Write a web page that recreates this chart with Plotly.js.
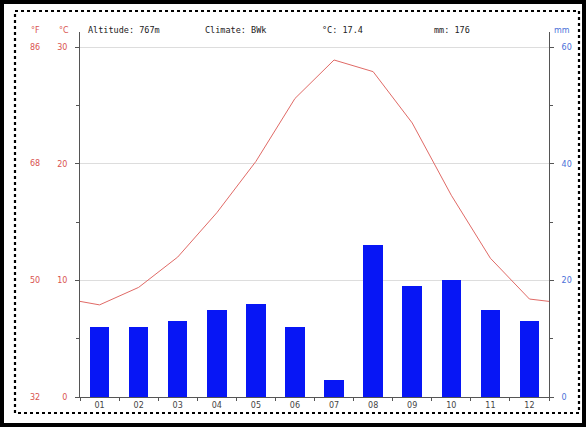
<!DOCTYPE html>
<html>
<head>
<meta charset="utf-8">
<script src="https://cdn.plot.ly/plotly-3.0.1.min.js"></script>
<style>
  html, body { margin: 0; padding: 0; background: #fff; }
  #chart { width: 587px; height: 430px; }
</style>
</head>
<body>
<div id="chart"></div>
<script>
// ---- data ----
const months = [1, 2, 3, 4, 5, 6, 7, 8, 9, 10, 11, 12];
const monthLabels = ['01', '02', '03', '04', '05', '06', '07', '08', '09', '10', '11', '12'];
const tempC = [7.9, 9.4, 12.0, 15.8, 20.2, 25.6, 28.9, 27.9, 23.5, 17.3, 11.9, 8.4];
const tempEdge = 8.2;               // line value drawn at both plot edges
const precipMm = [12, 12, 13, 15, 16, 12, 3, 26, 19, 20, 15, 13];
const cTicks = [0, 10, 20, 30];
const fTickText = ['32', '50', '68', '86'];
const mmTicks = [0, 20, 40, 60];
const headerTexts = ['Altitude: 767m', 'Climate: BWk', '°C: 17.4', 'mm: 176'];

// ---- layout constants ----
const W = 587, H = 430;
const mL = 80, mR = 38, mT = 32, mB = 33;
const pw = W - mL - mR, ph = H - mT - mB;
const px = x => (x - mL) / pw;          // pixel -> paper x
const py = y => (H - mB - y) / ph;      // pixel -> paper y

const red = '#d9534f';
const redLine = '#e06a66';
const blueTxt = '#4a6fd8';
const barBlue = '#0716f5';
const axisCol = '#555555';

const lineX = [0.5].concat(months, [12.5]);
const lineY = [tempEdge].concat(tempC, [tempEdge]);

const traces = [
  {
    type: 'bar', x: months, y: precipMm, yaxis: 'y2', width: 0.5,
    marker: { color: barBlue, line: { width: 0 } }, hoverinfo: 'skip'
  },
  {
    type: 'scatter', mode: 'lines', x: lineX, y: lineY, yaxis: 'y',
    line: { color: redLine, width: 1 }, hoverinfo: 'skip'
  }
];

const annotations = [];
// Fahrenheit tick labels (left of Celsius)
cTicks.forEach((c, i) => {
  annotations.push({
    xref: 'paper', yref: 'y', x: px(35), y: c, text: fTickText[i],
    showarrow: false, xanchor: 'center', yanchor: 'middle',
    font: { family: 'DejaVu Sans, sans-serif', size: 8, color: red }
  });
});
// unit headers
[['°F', 35, red], ['°C', 64, red], ['mm', 562, blueTxt]].forEach(a => {
  annotations.push({
    xref: 'paper', yref: 'paper', x: px(a[1]), y: py(30), text: a[0],
    showarrow: false, xanchor: 'center', yanchor: 'middle',
    font: { family: 'DejaVu Sans, sans-serif', size: 8, color: a[2] }
  });
});
// header info texts
const headerX = [86, 203, 320, 432];
headerTexts.forEach((t, i) => {
  annotations.push({
    xref: 'paper', yref: 'paper', x: px(headerX[i]), y: py(30), text: t,
    showarrow: false, xanchor: 'left', yanchor: 'middle',
    font: { family: 'DejaVu Sans Mono, monospace', size: 8.5, color: '#222' }
  });
});

const shapes = [
  // outer black frame
  { type: 'rect', xref: 'paper', yref: 'paper', x0: px(2), x1: px(584), y0: py(2), y1: py(425),
    line: { color: '#000', width: 4 }, layer: 'above' },
  // dotted inner frame
  { type: 'rect', xref: 'paper', yref: 'paper', x0: px(15), x1: px(579), y0: py(11), y1: py(413),
    line: { color: '#000', width: 2.2, dash: 'dot' }, layer: 'above' }
];

const layout = {
  width: W, height: H,
  margin: { l: mL, r: mR, t: mT, b: mB, pad: 0 },
  paper_bgcolor: '#fff', plot_bgcolor: '#fff',
  showlegend: false,
  bargap: 0,
  xaxis: {
    range: [0.5, 12.5], tickmode: 'array', tickvals: months, ticktext: monthLabels,
    ticks: '', showgrid: false, zeroline: false,
    showline: true, linecolor: axisCol, linewidth: 1,
    tickfont: { family: 'DejaVu Sans, sans-serif', size: 8, color: '#444' },
    minor: { tickmode: 'linear', tick0: 0.5, dtick: 1, ticks: 'outside', ticklen: 3, tickcolor: axisCol, showgrid: false },
    fixedrange: true
  },
  yaxis: {
    range: [0, 31.3], tickmode: 'array', tickvals: cTicks,
    ticks: 'outside', ticklen: 4, tickcolor: axisCol,
    showgrid: true, gridcolor: '#dddddd', gridwidth: 1, zeroline: false,
    showline: true, linecolor: axisCol, linewidth: 1,
    tickfont: { family: 'DejaVu Sans, sans-serif', size: 8, color: red },
    ticklabelstandoff: 6,
    minor: { tickmode: 'linear', tick0: 5, dtick: 10, ticks: 'outside', ticklen: 3, tickcolor: axisCol, showgrid: false },
    fixedrange: true
  },
  yaxis2: {
    range: [0, 62.6], overlaying: 'y', side: 'right', tickmode: 'array', tickvals: mmTicks,
    ticks: 'outside', ticklen: 4, tickcolor: axisCol,
    showgrid: false, zeroline: false,
    showline: true, linecolor: axisCol, linewidth: 1,
    tickfont: { family: 'DejaVu Sans, sans-serif', size: 8, color: blueTxt },
    ticklabelstandoff: 6,
    minor: { tickmode: 'linear', tick0: 10, dtick: 20, ticks: 'outside', ticklen: 3, tickcolor: axisCol, showgrid: false },
    fixedrange: true
  },
  annotations: annotations,
  shapes: shapes
};

Plotly.newPlot('chart', traces, layout, { displayModeBar: false, staticPlot: true });
</script>
</body>
</html>
